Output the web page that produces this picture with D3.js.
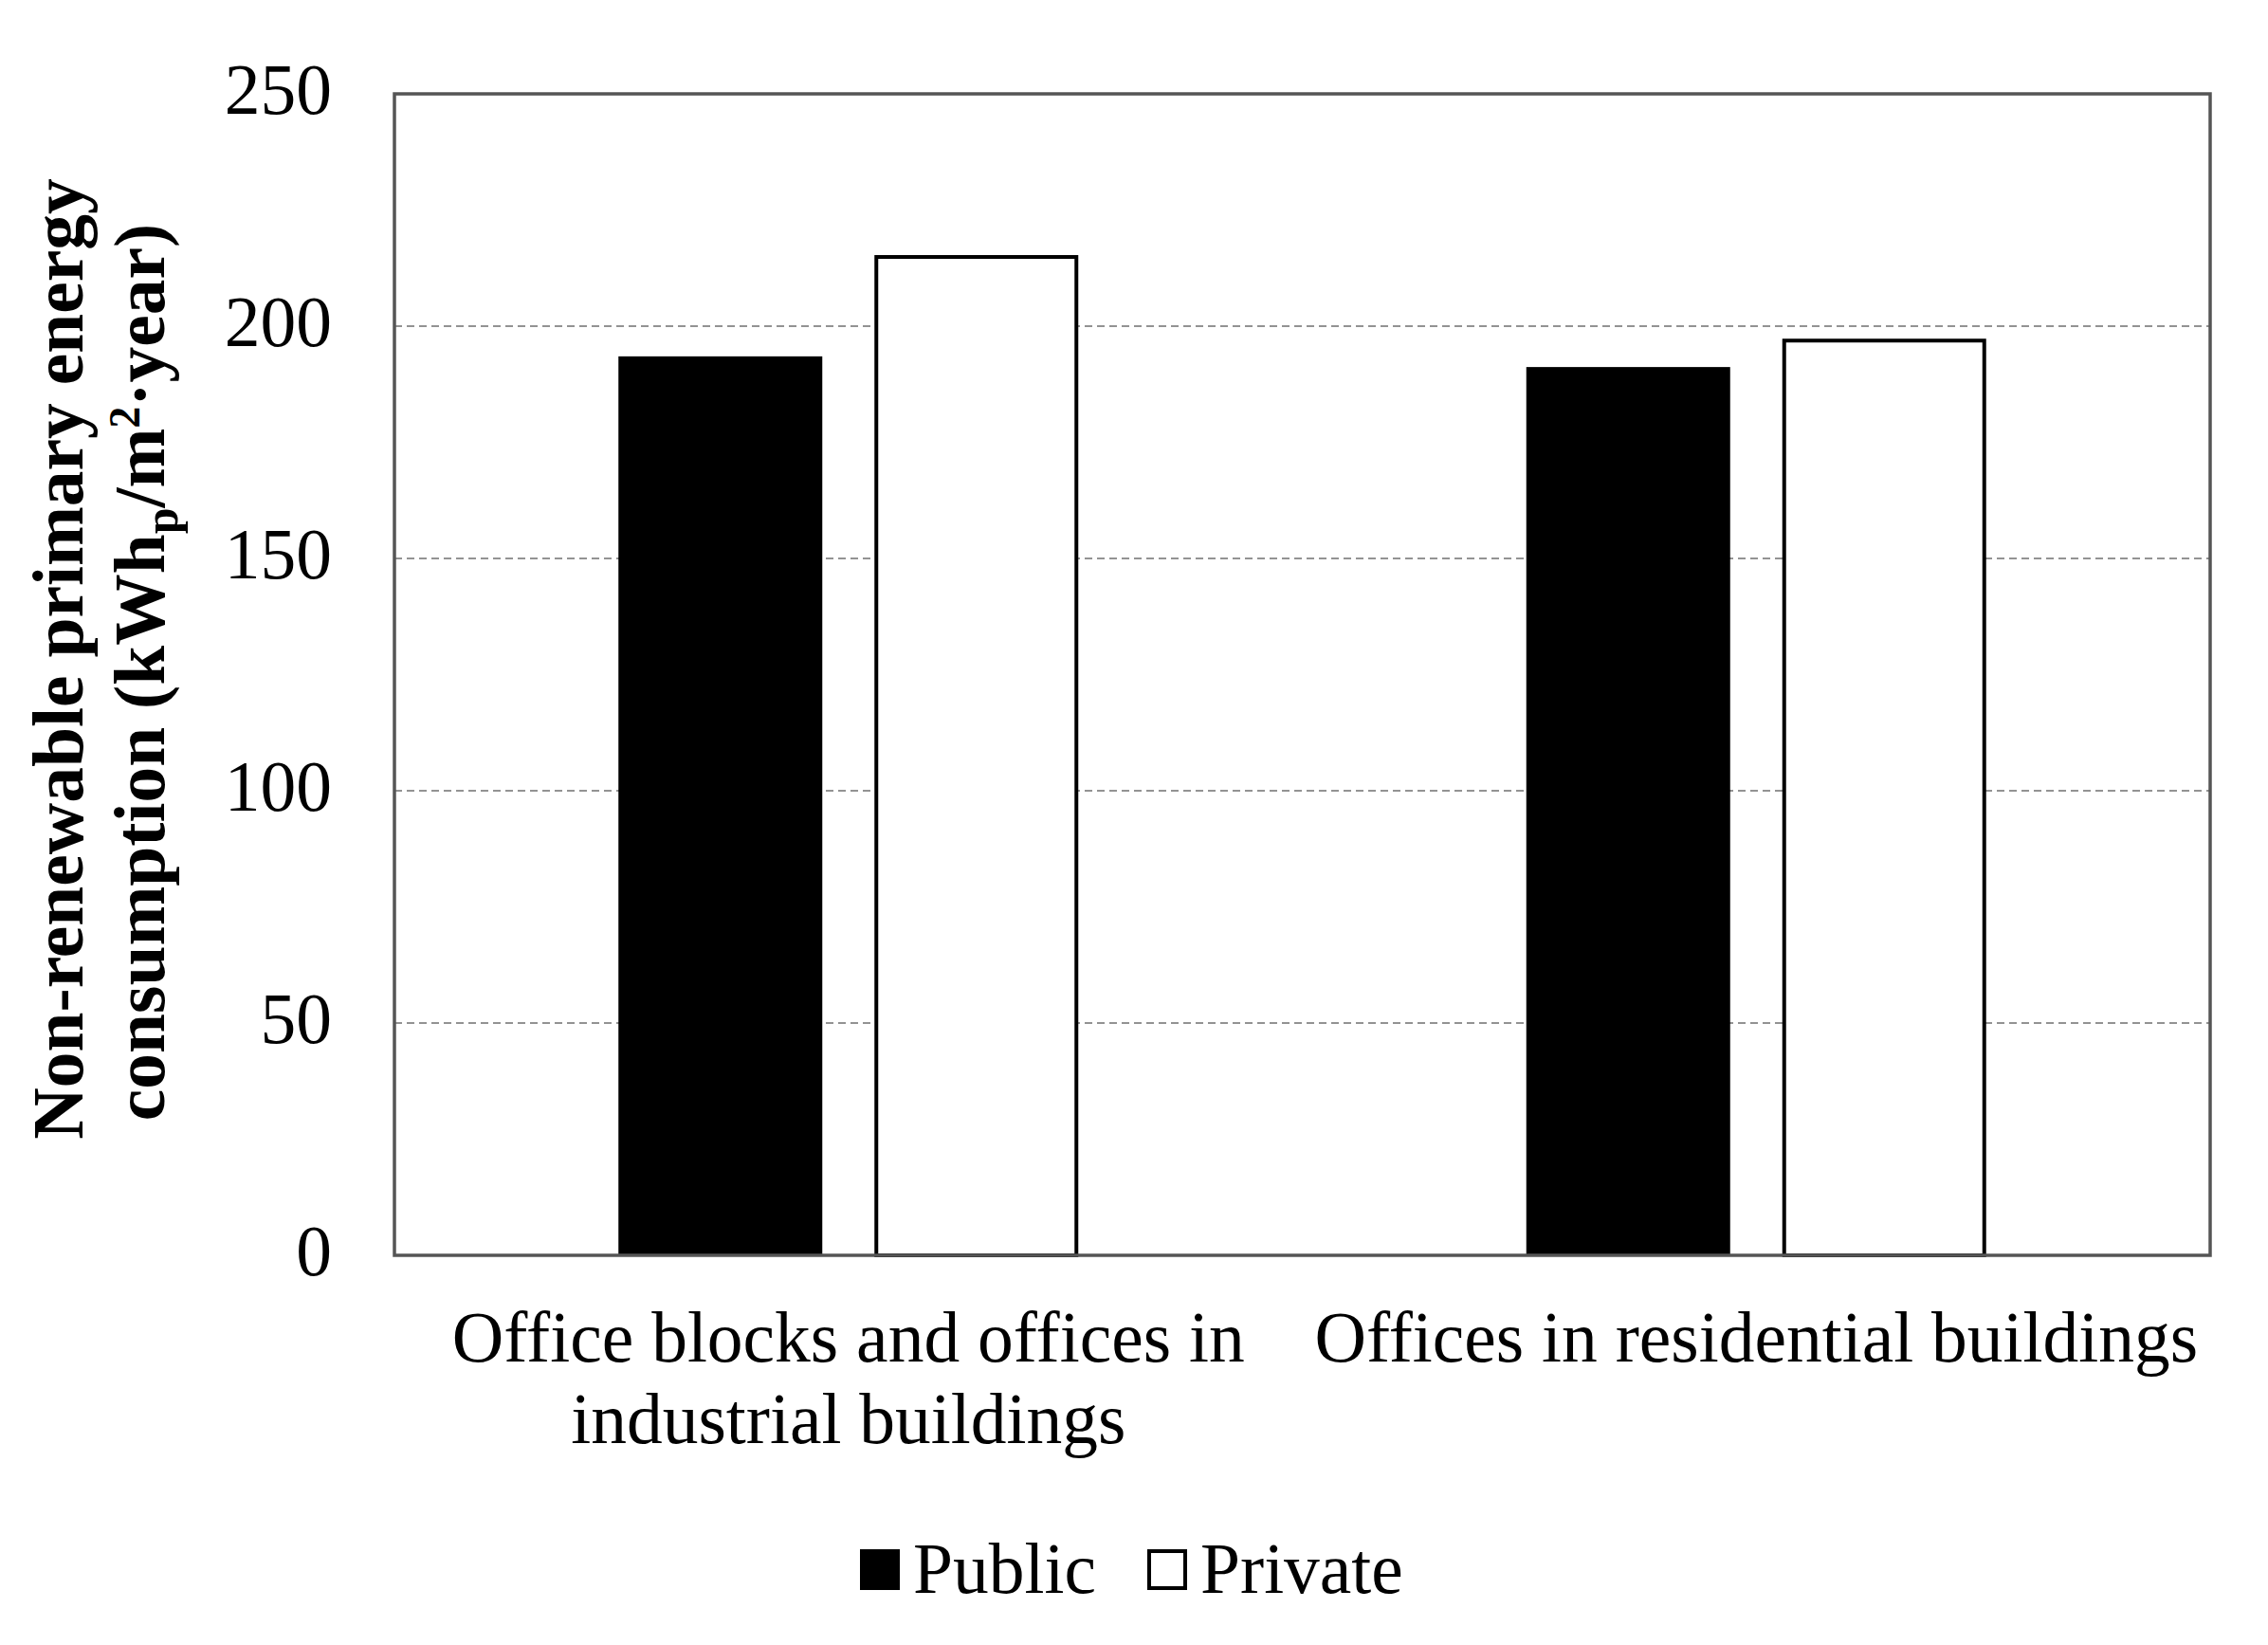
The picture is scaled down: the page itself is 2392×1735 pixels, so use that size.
<!DOCTYPE html>
<html>
<head>
<meta charset="utf-8">
<script src="https://cdn.jsdelivr.net/npm/d3@7"></script>
<style>
  html, body { margin: 0; padding: 0; background: #fff; }
  svg { display: block; }
  text { font-family: "Liberation Serif", "Times New Roman", serif; fill: #000; }
</style>
</head>
<body>
<svg id="chart" width="2392" height="1735"></svg>
<script>
// ---- data ----
const categories = ["Office blocks and offices in industrial buildings", "Offices in residential buildings"];
const categoryLabelLines = [["Office blocks and offices in", "industrial buildings"], ["Offices in residential buildings"]];
const seriesNames = ["Public", "Private"];
const publicValues = [193.5, 191.2];
const privateValues = [215.3, 197.3];
const yTicks = [0, 50, 100, 150, 200, 250];

// ---- layout ----
const W = 2392, H = 1735;
const plot = { left: 416, right: 2331, top: 99, bottom: 1324 };
const FONT = 75.5;

const svg = d3.select("#chart");
svg.append("rect").attr("width", W).attr("height", H).attr("fill", "#fff");

const y = d3.scaleLinear().domain([0, 250]).range([plot.bottom, plot.top]);
const x0 = d3.scaleBand().domain(categories).range([plot.left, plot.right]).paddingInner(0).paddingOuter(0);
const x1 = d3.scaleBand().domain(seriesNames).range([0, x0.bandwidth()]).paddingInner(0.2037).paddingOuter(0.875);

// gridlines
svg.append("g")
  .selectAll("line")
  .data(yTicks.filter(t => t > 0 && t < 250))
  .join("line")
  .attr("x1", plot.left).attr("x2", plot.right)
  .attr("y1", d => y(d)).attr("y2", d => y(d))
  .attr("stroke", "#939393").attr("stroke-width", 2.2)
  .attr("stroke-dasharray", "8,5");

// bars
const rows = categories.map((c, i) => ({ cat: c, vals: [
  { s: "Public", v: publicValues[i] },
  { s: "Private", v: privateValues[i] }
]}));

const groups = svg.append("g").selectAll("g")
  .data(rows).join("g")
  .attr("transform", d => `translate(${x0(d.cat)},0)`);

groups.selectAll("rect")
  .data(d => d.vals).join("rect")
  .attr("x", d => x1(d.s) + (d.s === "Private" ? 2 : 0))
  .attr("width", d => x1.bandwidth() - (d.s === "Private" ? 4 : 0))
  .attr("y", d => y(d.v) + (d.s === "Private" ? 2 : 0))
  .attr("height", d => y(0) - y(d.v) - (d.s === "Private" ? 2 : 0))
  .attr("fill", d => d.s === "Public" ? "#000" : "#fff")
  .attr("stroke", d => d.s === "Public" ? "none" : "#000")
  .attr("stroke-width", 4);

// plot border
svg.append("rect")
  .attr("x", plot.left).attr("y", plot.top)
  .attr("width", plot.right - plot.left).attr("height", plot.bottom - plot.top)
  .attr("fill", "none").attr("stroke", "#555").attr("stroke-width", 3.5);

// y axis
const yAxis = svg.append("g")
  .attr("transform", `translate(${plot.left},0)`)
  .call(d3.axisLeft(y).tickValues(yTicks).tickSize(0).tickPadding(66).tickFormat(d3.format("d")));
yAxis.select(".domain").remove();
yAxis.selectAll("text")
  .style("font-family", '"Liberation Serif", "Times New Roman", serif')
  .style("font-size", FONT + "px")
  .attr("fill", "#000")
  .attr("dy", "0.27em");

// x category labels
const xl = svg.append("g");
categories.forEach((c, i) => {
  const cx = x0(c) + x0.bandwidth() / 2;
  const t = xl.append("text")
    .attr("text-anchor", "middle")
    .attr("x", cx).attr("y", 1436)
    .style("font-size", FONT + "px");
  categoryLabelLines[i].forEach((ln, j) => {
    t.append("tspan").attr("x", cx).attr("dy", j === 0 ? 0 : 86).text(ln);
  });
});

// y title (rotated, two lines)
const yt1 = svg.append("g").attr("transform", `translate(87,695) rotate(-90)`);
yt1.append("text")
  .attr("text-anchor", "middle")
  .attr("x", 0).attr("y", 0)
  .style("font-size", FONT + "px").style("font-weight", "bold")
  .text("Non-renewable primary energy");
const yt2 = svg.append("g").attr("transform", `translate(173,709) rotate(-90)`);
const t2 = yt2.append("text")
  .attr("text-anchor", "middle")
  .attr("x", 0).attr("y", 0)
  .style("font-size", FONT + "px").style("font-weight", "bold");
t2.append("tspan").text("consumption (kWh");
t2.append("tspan").attr("dy", 14).style("font-size", "50px").text("p");
t2.append("tspan").attr("dy", -14).text("/m");
t2.append("tspan").attr("dy", -26).style("font-size", "46px").text("2");
t2.append("tspan").attr("dy", 26).text("·year)");

// legend
const legend = svg.append("g");
const legendItems = [
  { name: "Public", fill: "#000", x: 907 },
  { name: "Private", fill: "#fff", x: 1210 }
];
legend.selectAll("rect").data(legendItems).join("rect")
  .attr("x", d => d.x + (d.fill === "#fff" ? 2 : 0))
  .attr("y", d => 1634 + (d.fill === "#fff" ? 2 : 0))
  .attr("width", d => d.fill === "#fff" ? 38 : 42)
  .attr("height", d => d.fill === "#fff" ? 39 : 43)
  .attr("fill", d => d.fill)
  .attr("stroke", d => d.fill === "#fff" ? "#000" : "none")
  .attr("stroke-width", 4);
legend.selectAll("text").data(legendItems).join("text")
  .attr("x", d => d.x + 56).attr("y", 1680)
  .style("font-size", FONT + "px")
  .text(d => d.name);
</script>
</body>
</html>
